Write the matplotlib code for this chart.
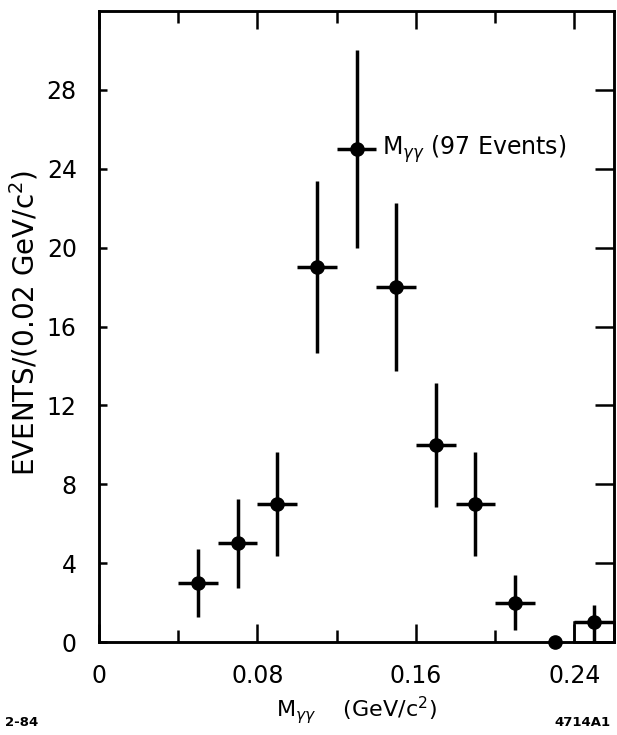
import matplotlib
matplotlib.use("Agg")
import matplotlib.pyplot as plt
from matplotlib.patches import Rectangle
from matplotlib.ticker import MultipleLocator

plt.rcParams['font.family'] = ['DejaVu Sans']
plt.rcParams['mathtext.fontset'] = 'dejavusans'

# Data (bin centres in GeV/c^2, events per 0.02 GeV/c^2)
mass = [0.05, 0.07, 0.09, 0.11, 0.13, 0.15, 0.17, 0.19, 0.21, 0.23, 0.25]
events = [3, 5, 7, 19, 25, 18, 10, 7, 2, 0, 1]
err_low = [1.73, 2.24, 2.65, 4.36, 5.0, 4.24, 3.16, 2.65, 1.41, 0, 1.0]
err_high = [1.73, 2.24, 2.65, 4.36, 5.0, 4.24, 3.16, 2.65, 1.41, 0, 0.9]
half_bin = [0.01, 0.01, 0.01, 0.01, 0.01, 0.01, 0.01, 0.01, 0.01, 0, 0.01]

# hollow box bin
box_x0, box_x1, box_h = 0.24, 0.26, 1

yticks = [0, 4, 8, 12, 16, 20, 24, 28]
xticks = [0, 0.08, 0.16, 0.24]
xtick_labels = ['0', '0.08', '0.16', '0.24']

fig = plt.figure(figsize=(6.17, 7.35), dpi=100)
rect = [99/617, 1 - 642/735, (614 - 99)/617, (642 - 11)/735]
ax = fig.add_axes(rect)

ax.add_patch(Rectangle((box_x0, 0), box_x1 - box_x0, box_h, fill=False,
                       edgecolor='black', lw=1.8, clip_on=False, zorder=2))

ax.errorbar(mass, events, yerr=[err_low, err_high], xerr=half_bin,
            fmt='o', color='black', ms=9.5, elinewidth=2.5, capsize=0,
            clip_on=False, zorder=3)

ax.set_xlim(0, 0.26)
ax.set_ylim(0, 32)
ax.set_xticks(xticks)
ax.set_xticklabels(xtick_labels)
ax.xaxis.set_minor_locator(MultipleLocator(0.04))
ax.set_yticks(yticks)

ax.tick_params(which='both', direction='in', top=True, right=False,
               width=1.8, labelsize=17)
ax.tick_params(axis='x', which='major', length=13, pad=16)
ax.tick_params(axis='x', which='minor', length=8.5)
ax.tick_params(axis='y', which='major', length=5.5, pad=16)
for s in ax.spines.values():
    s.set_linewidth(1.8)

# right-hand ticks are longer than the left-hand ones
axr = ax.twinx()
axr.set_ylim(0, 32)
axr.set_yticks(yticks)
axr.tick_params(axis='y', direction='in', length=14, width=1.8,
                labelright=False)
for s in axr.spines.values():
    s.set_linewidth(1.8)

ax.text(0.143, 25, r'M$_{\gamma\gamma}$ (97 Events)', fontsize=17,
        va='center', ha='left')

ax.set_xlabel(r'M$_{\gamma\gamma}$    (GeV/c$^2$)', fontsize=16, labelpad=4)
fig.text(24/617, 1 - 323/735, 'EVENTS/(0.02 GeV/c$^2$)', fontsize=20,
         rotation=90, ha='center', va='center')

fig.text(5/617, 1 - 722/735, '2-84', fontsize=9.5, weight='bold', va='center')
fig.text(611/617, 1 - 722/735, '4714A1', fontsize=9.5, weight='bold',
         va='center', ha='right')

fig.savefig('out.png', dpi=100)
